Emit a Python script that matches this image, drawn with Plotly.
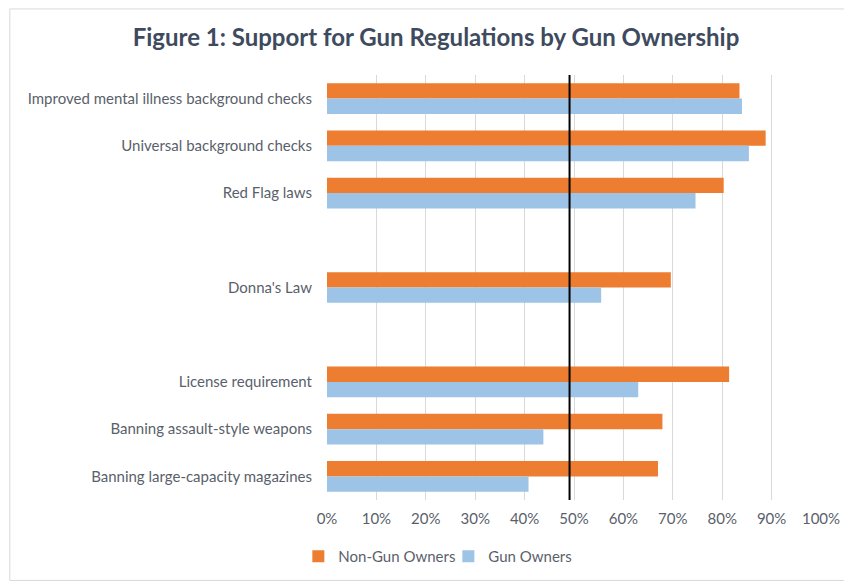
import plotly.graph_objects as go

categories = [
    "Improved mental illness background checks",
    "Universal background checks",
    "Red Flag laws",
    " ",
    "Donna's Law",
    "  ",
    "License requirement",
    "Banning assault-style weapons",
    "Banning large-capacity magazines",
]
non_gun = [83.5, 88.8, 80.3, None, 69.6, None, 81.4, 67.9, 67.0]
gun = [84.0, 85.4, 74.6, None, 55.5, None, 63.0, 43.8, 40.8]
x_ticks = [0, 10, 20, 30, 40, 50, 60, 70, 80, 90, 100]
x_tick_labels = [f"{v}%" for v in x_ticks]
ref_line = 49.1

FONT = "Lato"
LABEL = "#5a5f6b"
W, H = 844, 577
L, R, T, B = 319, 29, 67, 82
PW, PH = W - L - R, H - T - B

fig = go.Figure()
fig.add_trace(go.Bar(y=categories, x=non_gun, name="Non-Gun Owners", orientation="h",
                     marker=dict(color="#ED7D31", line=dict(width=0))))
fig.add_trace(go.Bar(y=categories, x=gun, name="Gun Owners", orientation="h",
                     marker=dict(color="#9DC3E6", line=dict(width=0))))

fig.add_shape(type="line", xref="x", yref="paper", x0=ref_line, x1=ref_line, y0=0, y1=1,
              line=dict(color="black", width=2))
# outer border
fig.add_shape(type="rect", xref="paper", yref="paper",
              x0=(0.5 - L) / PW, x1=(W - 1 - L) / PW,
              y0=-(B - 1) / PH, y1=1 + (T - 0.5) / PH,
              line=dict(color="#d9d9d9", width=1), layer="below")

fig.update_layout(
    width=W, height=H,
    paper_bgcolor="white", plot_bgcolor="white",
    margin=dict(l=L, r=R, t=T, b=B),
    barmode="group", bargap=0.35, bargroupgap=0,
    title=dict(text="<b>Figure 1: Support for Gun Regulations by Gun Ownership</b>",
               x=428 / W, xanchor="center", y=1 - 30 / H, yanchor="middle",
               font=dict(family=FONT, size=24, color="#3E4A5E")),
    font=dict(family=FONT, size=15, color=LABEL),
    legend=dict(orientation="h", x=-0.058, xanchor="left", y=-57 / PH, yanchor="middle",
                font=dict(size=15, color=LABEL), itemwidth=30, entrywidth=105,
                traceorder="normal"),
    showlegend=True,
)
fig.update_xaxes(range=[0, 100], tickvals=x_ticks, ticktext=x_tick_labels,
                 showgrid=True, gridcolor="#d9d9d9", gridwidth=1, zeroline=False,
                 showline=False, ticks="", ticklabelstandoff=8)
fig.update_yaxes(categoryorder="array", categoryarray=categories, autorange="reversed",
                 showgrid=False, zeroline=False, showline=False, ticks="",
                 ticklabelstandoff=14)

fig.write_html("out.html")
